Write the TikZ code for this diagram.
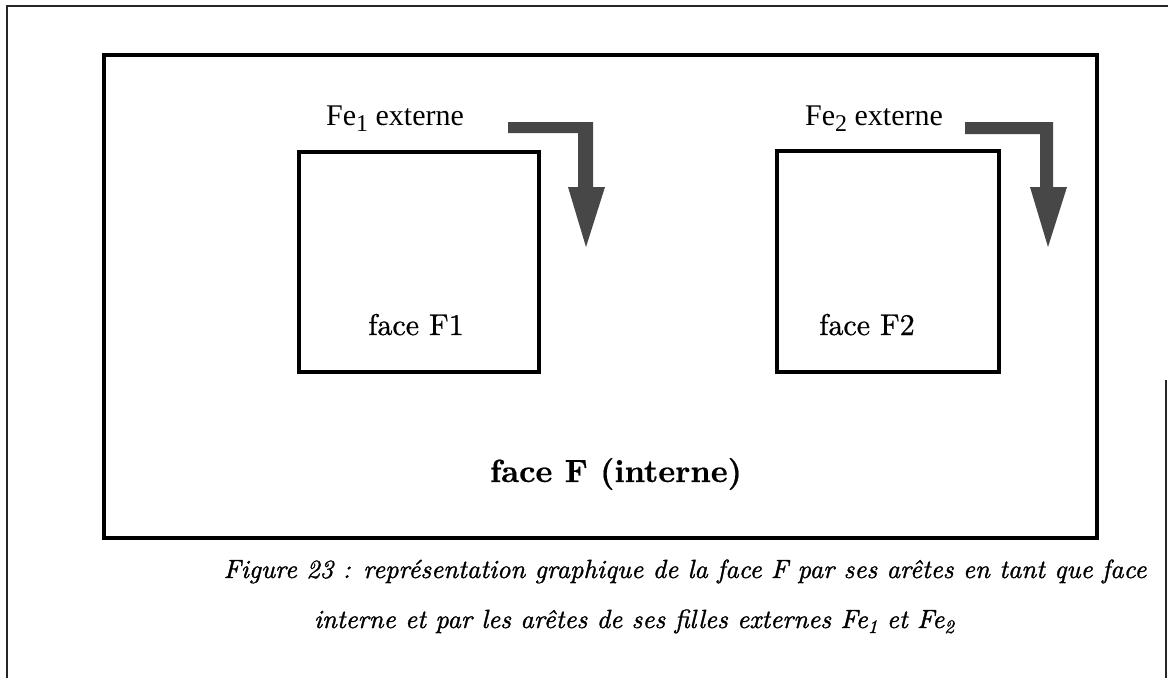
\documentclass[tikz,border=0pt]{standalone}
\usepackage{fontspec}
\newfontfamily\timesf{Liberation Serif}
\newfontfamily\capf{lmroman10-italic.otf}[FakeBold=1.2]
\newfontfamily\facef{lmroman10-regular.otf}[FakeBold=0.8]
\newfontfamily\facebf{lmroman10-bold.otf}[FakeBold=0.6]
\newcommand{\bigsub}[1]{\raisebox{-6pt}{\fontsize{24}{24}\selectfont #1}}
\newcommand{\capsub}[1]{\raisebox{-5pt}{\fontsize{19}{19}\selectfont #1}}
\begin{document}
\begin{tikzpicture}[x=1pt,y=-1pt,
  thinframe/.style={line width=1.8pt,black!85},
  facebox/.style={draw,line width=4pt,rectangle,inner sep=0pt},
  lbl/.style={anchor=base,inner sep=0pt},
  fatarrow/.style={fill=black!72,draw=none}]
\useasboundingbox (0,0) rectangle (1168,678);
\fill[white] (0,0) rectangle (1168,678);
\draw[thinframe] (7,678) -- (7,6) -- (1168,6);
\draw[thinframe] (1166,380) -- (1166,678);
\node[facebox,minimum width=993pt,minimum height=483pt] (F) at (600.5,296.5) {};
\node[facebox,minimum width=240pt,minimum height=220pt] (F1) at (419,262) {};
\node[facebox,minimum width=222pt,minimum height=221pt] (F2) at (888,261.5) {};
\node[lbl,font=\timesf\fontsize{30}{36}\selectfont] (e1) at (395,125) {Fe\bigsub{1} externe};
\node[lbl,font=\timesf\fontsize{30}{36}\selectfont] (e2) at (874,125) {Fe\bigsub{2} externe};
\node[lbl,font=\facef\fontsize{30}{36}\selectfont] (t1) at (416,335) {face F1};
\node[lbl,font=\facef\fontsize{30}{36}\selectfont] (t2) at (867,335) {face F2};
\node[lbl,font=\facebf\fontsize{32}{38}\selectfont] (tF) at (616,482) {face F (interne)};
\node[lbl,font=\capf\fontsize{26.3}{31}\selectfont] (c1) at (685,578) {Figure 23 : représentation graphique de la face F par ses arêtes en tant que face};
\node[lbl,font=\capf\fontsize{26.3}{31}\selectfont] (c2) at (634,628) {interne et par les arêtes de ses filles externes Fe\capsub{1} et Fe\capsub{2}};
\fill[fatarrow] (508,122) -- (593,122) -- (593,187) -- (605,187) -- (586,247) -- (568,187) -- (578,187) -- (578,133) -- (508,133) -- cycle;
\fill[fatarrow] (965,122) -- (1053,122) -- (1053,187) -- (1067,187) -- (1048,247) -- (1030,187) -- (1040,187) -- (1040,134) -- (965,134) -- cycle;
\end{tikzpicture}
\end{document}
